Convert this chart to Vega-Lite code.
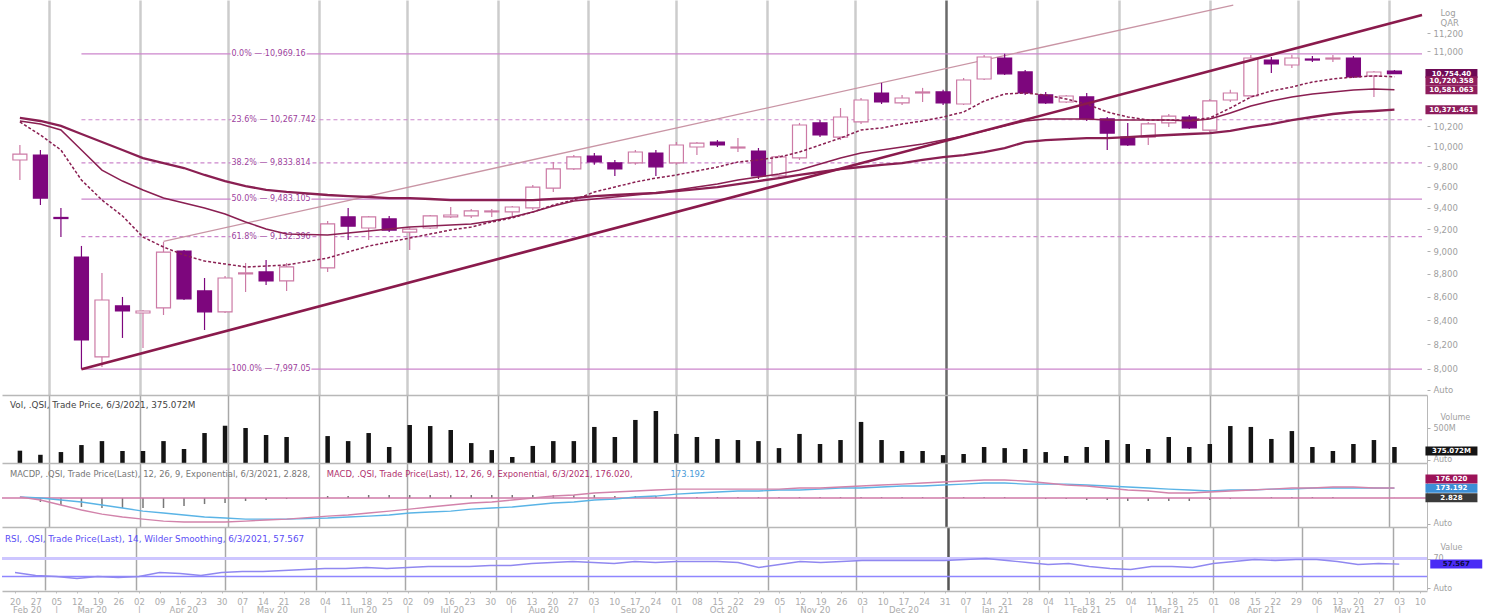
{
"$schema":"https://vega.github.io/schema/vega-lite/v6.json",
"padding":0,
"background":"white",
"spacing":0,
"bounds":"flush",
"config":{"view":{"stroke":null},"font":"DejaVu Sans","axis":{"labelFont":"DejaVu Sans","titleFont":"DejaVu Sans"}},
"datasets":{
"w":[
{"d":"2020-02-20","o":9862,"h":10011,"l":9666,"c":9921,"v":351,"m1":10245,"m2":10255,"m3":10286,"md":18,"sg":18,"hs":0,"r":38.9},
{"d":"2020-02-27","o":9911,"h":9961,"l":9427,"c":9493,"v":324,"m1":10112,"m2":10224,"m3":10255,"md":-35,"sg":0,"hs":-70,"r":32.2},
{"d":"2020-03-05","o":9310,"h":9399,"l":9129,"c":9300,"v":342,"m1":9961,"m2":10163,"m3":10204,"md":-123,"sg":-35,"hs":-123,"r":30},
{"d":"2020-03-12","o":8948,"h":9048,"l":7997.05,"c":8234,"v":388,"m1":9666,"m2":9961,"m3":10122,"md":-211,"sg":-70,"hs":-158,"r":25.6},
{"d":"2020-03-19","o":8096,"h":8807,"l":8014,"c":8571,"v":414,"m1":9474,"m2":9763,"m3":10041,"md":-282,"sg":-123,"hs":-176,"r":30},
{"d":"2020-03-26","o":8520,"h":8597,"l":8251,"c":8477,"v":349,"m1":9324,"m2":9656,"m3":9961,"md":-334,"sg":-176,"hs":-176,"r":27.8},
{"d":"2020-04-02","o":8460,"h":8485,"l":8168,"c":8477,"v":349,"m1":9129,"m2":9570,"m3":9881,"md":-370,"sg":-229,"hs":-176,"r":30},
{"d":"2020-04-09","o":8503,"h":9084,"l":8443,"c":8993,"v":414,"m1":9038,"m2":9493,"m3":9832,"md":-405,"sg":-264,"hs":-176,"r":38.9},
{"d":"2020-04-16","o":9002,"h":9011,"l":8571,"c":8580,"v":362,"m1":8966,"m2":9446,"m3":9783,"md":-422,"sg":-299,"hs":-141,"r":36.7},
{"d":"2020-04-23","o":8649,"h":8762,"l":8317,"c":8469,"v":467,"m1":8912,"m2":9399,"m3":9715,"md":-422,"sg":-334,"hs":-106,"r":32.2},
{"d":"2020-04-30","o":8469,"h":8780,"l":8460,"c":8762,"v":515,"m1":8886,"m2":9342,"m3":9656,"md":-422,"sg":-352,"hs":-88,"r":38.9},
{"d":"2020-05-07","o":8798,"h":8895,"l":8640,"c":8807,"v":500,"m1":8859,"m2":9268,"m3":9608,"md":-405,"sg":-370,"hs":-53,"r":41.1},
{"d":"2020-05-14","o":8815,"h":8922,"l":8701,"c":8736,"v":454,"m1":8868,"m2":9203,"m3":9570,"md":-387,"sg":-370,"hs":-35,"r":41.1},
{"d":"2020-05-21","o":8736,"h":8895,"l":8649,"c":8860,"v":441,"m1":8877,"m2":9157,"m3":9551,"md":-370,"sg":-370,"hs":-18,"r":43.3},
{"d":"2020-06-04","o":8851,"h":9276,"l":8815,"c":9250,"v":447,"m1":8939,"m2":9148,"m3":9522,"md":-317,"sg":-352,"hs":35,"r":47.8},
{"d":"2020-06-11","o":9315,"h":9399,"l":9102,"c":9230,"v":414,"m1":8993,"m2":9166,"m3":9512,"md":-299,"sg":-334,"hs":35,"r":47.8},
{"d":"2020-06-18","o":9212,"h":9324,"l":9102,"c":9315,"v":467,"m1":9047,"m2":9184,"m3":9503,"md":-264,"sg":-317,"hs":53,"r":50},
{"d":"2020-06-25","o":9296,"h":9324,"l":9175,"c":9193,"v":375,"m1":9084,"m2":9203,"m3":9493,"md":-229,"sg":-299,"hs":53,"r":47.8},
{"d":"2020-07-02","o":9175,"h":9220,"l":9011,"c":9202,"v":520,"m1":9120,"m2":9221,"m3":9493,"md":-194,"sg":-264,"hs":53,"r":50},
{"d":"2020-07-09","o":9212,"h":9333,"l":9202,"c":9324,"v":513,"m1":9157,"m2":9231,"m3":9484,"md":-158,"sg":-246,"hs":53,"r":52.2},
{"d":"2020-07-16","o":9315,"h":9408,"l":9305,"c":9333,"v":487,"m1":9194,"m2":9240,"m3":9474,"md":-123,"sg":-229,"hs":53,"r":52.2},
{"d":"2020-07-23","o":9324,"h":9389,"l":9305,"c":9371,"v":401,"m1":9221,"m2":9249,"m3":9474,"md":-88,"sg":-194,"hs":53,"r":52.2},
{"d":"2020-07-30","o":9362,"h":9389,"l":9315,"c":9371,"v":355,"m1":9268,"m2":9277,"m3":9474,"md":-70,"sg":-176,"hs":53,"r":54.4},
{"d":"2020-08-06","o":9362,"h":9418,"l":9315,"c":9408,"v":309,"m1":9305,"m2":9314,"m3":9474,"md":-35,"sg":-158,"hs":53,"r":54.4},
{"d":"2020-08-13","o":9399,"h":9618,"l":9380,"c":9598,"v":382,"m1":9361,"m2":9361,"m3":9474,"md":0,"sg":-123,"hs":53,"r":58.9},
{"d":"2020-08-20","o":9588,"h":9843,"l":9550,"c":9774,"v":414,"m1":9427,"m2":9417,"m3":9484,"md":35,"sg":-88,"hs":53,"r":61.1},
{"d":"2020-08-27","o":9774,"h":9911,"l":9764,"c":9892,"v":414,"m1":9474,"m2":9465,"m3":9493,"md":53,"sg":-70,"hs":53,"r":63.3},
{"d":"2020-09-03","o":9901,"h":9931,"l":9814,"c":9843,"v":507,"m1":9551,"m2":9484,"m3":9512,"md":88,"sg":-35,"hs":53,"r":61.1},
{"d":"2020-09-10","o":9833,"h":9862,"l":9706,"c":9774,"v":441,"m1":9598,"m2":9503,"m3":9522,"md":106,"sg":-18,"hs":35,"r":58.9},
{"d":"2020-09-17","o":9833,"h":9961,"l":9814,"c":9941,"v":553,"m1":9647,"m2":9522,"m3":9532,"md":123,"sg":18,"hs":35,"r":63.3},
{"d":"2020-09-24","o":9931,"h":9961,"l":9706,"c":9794,"v":612,"m1":9685,"m2":9541,"m3":9541,"md":141,"sg":35,"hs":35,"r":61.1},
{"d":"2020-10-01","o":9833,"h":10041,"l":9814,"c":10011,"v":461,"m1":9715,"m2":9570,"m3":9560,"md":158,"sg":70,"hs":18,"r":63.3},
{"d":"2020-10-08","o":9991,"h":10041,"l":9911,"c":10031,"v":441,"m1":9754,"m2":9598,"m3":9579,"md":158,"sg":88,"hs":18,"r":63.3},
{"d":"2020-10-15","o":10041,"h":10061,"l":9991,"c":10011,"v":428,"m1":9793,"m2":9627,"m3":9598,"md":158,"sg":106,"hs":18,"r":63.3},
{"d":"2020-10-22","o":9981,"h":10081,"l":9941,"c":9991,"v":421,"m1":9842,"m2":9666,"m3":9627,"md":158,"sg":123,"hs":18,"r":61.1},
{"d":"2020-10-29","o":9951,"h":9981,"l":9676,"c":9706,"v":414,"m1":9862,"m2":9695,"m3":9656,"md":158,"sg":123,"hs":18,"r":50},
{"d":"2020-11-05","o":9706,"h":9911,"l":9676,"c":9892,"v":368,"m1":9891,"m2":9724,"m3":9685,"md":158,"sg":141,"hs":18,"r":56.7},
{"d":"2020-11-12","o":9882,"h":10235,"l":9862,"c":10214,"v":461,"m1":9941,"m2":9763,"m3":9715,"md":176,"sg":141,"hs":18,"r":63.3},
{"d":"2020-11-19","o":10235,"h":10266,"l":10091,"c":10112,"v":395,"m1":10011,"m2":9822,"m3":9744,"md":176,"sg":158,"hs":18,"r":61.1},
{"d":"2020-11-26","o":10091,"h":10389,"l":10061,"c":10296,"v":421,"m1":10081,"m2":9881,"m3":9773,"md":194,"sg":176,"hs":18,"r":63.3},
{"d":"2020-12-03","o":10245,"h":10494,"l":10225,"c":10473,"v":540,"m1":10163,"m2":9931,"m3":9793,"md":211,"sg":176,"hs":18,"r":65.6},
{"d":"2020-12-10","o":10547,"h":10654,"l":10431,"c":10452,"v":421,"m1":10183,"m2":9961,"m3":9813,"md":229,"sg":194,"hs":18,"r":65.6},
{"d":"2020-12-17","o":10442,"h":10526,"l":10421,"c":10494,"v":349,"m1":10224,"m2":9991,"m3":9832,"md":246,"sg":211,"hs":18,"r":65.6},
{"d":"2020-12-24","o":10547,"h":10601,"l":10452,"c":10558,"v":349,"m1":10255,"m2":10021,"m3":9862,"md":264,"sg":211,"hs":18,"r":65.6},
{"d":"2020-12-31","o":10558,"h":10580,"l":10421,"c":10442,"v":322,"m1":10296,"m2":10061,"m3":9891,"md":282,"sg":229,"hs":18,"r":65.6},
{"d":"2021-01-07","o":10431,"h":10706,"l":10421,"c":10685,"v":329,"m1":10348,"m2":10102,"m3":9911,"md":299,"sg":246,"hs":18,"r":67.8},
{"d":"2021-01-14","o":10696,"h":10956,"l":10685,"c":10934,"v":375,"m1":10462,"m2":10153,"m3":9941,"md":317,"sg":264,"hs":18,"r":70},
{"d":"2021-01-21","o":10923,"h":10969.16,"l":10740,"c":10751,"v":368,"m1":10536,"m2":10204,"m3":9981,"md":317,"sg":264,"hs":18,"r":65.6},
{"d":"2021-01-28","o":10772,"h":10793,"l":10526,"c":10547,"v":362,"m1":10547,"m2":10255,"m3":10041,"md":299,"sg":246,"hs":0,"r":61.1},
{"d":"2021-02-04","o":10526,"h":10558,"l":10431,"c":10442,"v":342,"m1":10526,"m2":10275,"m3":10061,"md":264,"sg":246,"hs":-18,"r":56.7},
{"d":"2021-02-11","o":10452,"h":10526,"l":10442,"c":10515,"v":316,"m1":10483,"m2":10275,"m3":10071,"md":229,"sg":246,"hs":-18,"r":58.9},
{"d":"2021-02-18","o":10505,"h":10547,"l":10255,"c":10276,"v":375,"m1":10431,"m2":10275,"m3":10081,"md":211,"sg":229,"hs":-35,"r":52.2},
{"d":"2021-02-25","o":10276,"h":10296,"l":9961,"c":10132,"v":421,"m1":10348,"m2":10265,"m3":10081,"md":176,"sg":211,"hs":-35,"r":47.8},
{"d":"2021-03-04","o":10091,"h":10235,"l":10001,"c":10011,"v":395,"m1":10296,"m2":10265,"m3":10091,"md":141,"sg":194,"hs":-53,"r":45.6},
{"d":"2021-03-11","o":10091,"h":10245,"l":10011,"c":10225,"v":362,"m1":10265,"m2":10265,"m3":10102,"md":123,"sg":176,"hs":-53,"r":52.2},
{"d":"2021-03-18","o":10235,"h":10327,"l":10194,"c":10306,"v":441,"m1":10265,"m2":10265,"m3":10112,"md":88,"sg":158,"hs":-53,"r":52.2},
{"d":"2021-03-25","o":10296,"h":10316,"l":10174,"c":10184,"v":375,"m1":10265,"m2":10255,"m3":10122,"md":88,"sg":141,"hs":-53,"r":50},
{"d":"2021-04-01","o":10162,"h":10484,"l":10142,"c":10463,"v":395,"m1":10286,"m2":10275,"m3":10132,"md":106,"sg":123,"hs":-35,"r":58.9},
{"d":"2021-04-08","o":10473,"h":10580,"l":10452,"c":10547,"v":513,"m1":10389,"m2":10337,"m3":10153,"md":123,"sg":141,"hs":-18,"r":63.3},
{"d":"2021-04-15","o":10516,"h":10956,"l":10494,"c":10923,"v":507,"m1":10504,"m2":10410,"m3":10193,"md":141,"sg":141,"hs":0,"r":67.8},
{"d":"2021-04-22","o":10901,"h":10934,"l":10760,"c":10858,"v":428,"m1":10568,"m2":10462,"m3":10224,"md":158,"sg":158,"hs":18,"r":65.6},
{"d":"2021-04-29","o":10847,"h":10960,"l":10815,"c":10923,"v":480,"m1":10610,"m2":10505,"m3":10265,"md":176,"sg":158,"hs":18,"r":67.8},
{"d":"2021-05-06","o":10912,"h":10945,"l":10880,"c":10901,"v":375,"m1":10664,"m2":10536,"m3":10296,"md":176,"sg":176,"hs":18,"r":67.8},
{"d":"2021-05-13","o":10912,"h":10955,"l":10880,"c":10923,"v":349,"m1":10696,"m2":10557,"m3":10327,"md":194,"sg":176,"hs":18,"r":63.3},
{"d":"2021-05-20","o":10923,"h":10945,"l":10707,"c":10717,"v":395,"m1":10717,"m2":10578,"m3":10348,"md":194,"sg":176,"hs":0,"r":56.7},
{"d":"2021-05-27","o":10728,"h":10782,"l":10505,"c":10771,"v":421,"m1":10728,"m2":10589,"m3":10358,"md":176,"sg":176,"hs":0,"r":58.9},
{"d":"2021-06-03","o":10782,"h":10793,"l":10750,"c":10754.4,"v":375.072,"m1":10720.358,"m2":10581.063,"m3":10371.461,"md":176.02,"sg":173.192,"hs":2.828,"r":57.567}
],
"fib":[
{"d":"2020-03-12","d1":"2021-06-12T09:36:00Z","p":10969.16,"q":0,"t":"0.0% — 10,969.16"},
{"d":"2020-03-12","d1":"2021-06-12T09:36:00Z","p":10267.742,"q":23.6,"t":"23.6% — 10,267.742"},
{"d":"2020-03-12","d1":"2021-06-12T09:36:00Z","p":9833.814,"q":38.2,"t":"38.2% — 9,833.814"},
{"d":"2020-03-12","d1":"2021-06-12T09:36:00Z","p":9483.105,"q":50,"t":"50.0% — 9,483.105"},
{"d":"2020-03-12","d1":"2021-06-12T09:36:00Z","p":9132.396,"q":61.8,"t":"61.8% — 9,132.396"},
{"d":"2020-03-12","d1":"2021-06-12T09:36:00Z","p":7997.05,"q":100,"t":"100.0% — 7,997.05"}
],
"trend":[
{"d":"2020-03-12","p":7997.05,"g":"low"},
{"d":"2021-06-12T09:36:00Z","p":11404,"g":"low"},
{"d":"2020-04-09","p":9090,"g":"up"},
{"d":"2021-04-09","p":11519,"g":"up"}
],
"pt":[
{"n":1,"d":"2021-06-03","p":10754.4,"t":"10,754.40"},
{"n":2,"d":"2021-06-03","p":10720.358,"t":"10,720.358"},
{"n":3,"d":"2021-06-03","p":10581.063,"t":"10,581.063"},
{"n":4,"d":"2021-06-03","p":10371.461,"t":"10,371.461"}
],
"mt":[
{"n":1,"d":"2021-06-03","v":176.02,"t":"176.020"},
{"n":2,"d":"2021-06-03","v":173.192,"t":"173.192"},
{"n":3,"d":"2021-06-03","v":2.828,"t":"2.828"}
],
"vt":[{"d":"2021-06-03","v":375.072,"t":"375.072M"}],
"rt":[{"d":"2021-06-03","v":57.567,"t":"57.567"}]
},
"vconcat":[
{"width":1425,"height":395,"layer":[
{"data":{"name":"fib"},"transform":[{"filter":"datum.q % 50 == 0"}],"mark":{"type":"rule","color":"#cc86cc","strokeWidth":1.2},
"encoding":{"x":{"field":"d","type":"temporal","scale":{"type":"utc","domain":[1581776640000,1623490560000]},
"axis":{"values":[1583020800000,1585699200000,1588291200000,1590969600000,1593561600000,1596240000000,1598918400000,1601510400000,1604188800000,1606780800000,1609459200000,1612137600000,1614556800000,1617235200000,1619827200000,1622505600000],"grid":true,"gridColor":{"condition":{"test":"utcmonth(datum.value)==0","value":"#6a6a6a"},"value":"#cccccc"},"gridWidth":{"condition":{"test":"utcmonth(datum.value)==0","value":2.5},"value":2.5},"gridOpacity":1,"labels":false,"ticks":false,"domain":false,"title":null}},
"x2":{"field":"d1"},
"y":{"field":"p","type":"quantitative","scale":{"type":"log","domain":[7792.5,11577],"nice":false},
"axis":{"orient":"right","values":[7832,8000,8200,8400,8600,8800,9000,9200,9400,9600,9800,10000,10200,11000,11200],"labelExpr":"datum.value == 7832 ? 'Auto' : format(datum.value, ',d')","grid":false,"domain":false,"ticks":true,"tickSize":3,"tickColor":"#b0b0b0","labelColor":"#a0a0a0","labelFontSize":8.5,"labelPadding":3,"title":["Log","QAR"],"titleAngle":0,"titleAlign":"left","titleBaseline":"top","titleX":13,"titleY":8,"titleColor":"#a0a0a0","titleFontSize":8.5,"titleFontWeight":"normal","titleLineHeight":10}}}},
{"data":{"name":"fib"},"transform":[{"filter":"datum.q % 50 != 0"}],"mark":{"type":"rule","color":"#cc86cc","strokeWidth":1.2,"strokeDash":[4,3]},
"encoding":{"x":{"field":"d","type":"temporal","scale":{"type":"utc","domain":[1581776640000,1623490560000]}},"x2":{"field":"d1"},
"y":{"field":"p","type":"quantitative","scale":{"type":"log","domain":[7792.5,11577],"nice":false}}}},
{"data":{"name":"trend"},"transform":[{"filter":"datum.g == 'up'"}],"mark":{"type":"line","color":"#c995a5","strokeWidth":1.3},
"encoding":{"x":{"field":"d","type":"temporal","scale":{"type":"utc","domain":[1581776640000,1623490560000]}},
"y":{"field":"p","type":"quantitative","scale":{"type":"log","domain":[7792.5,11577],"nice":false}}}},
{"data":{"name":"fib"},"mark":{"type":"text","align":"left","baseline":"middle","dx":150,"fontSize":8,"fill":"white","stroke":"white","strokeWidth":3},
"encoding":{"x":{"field":"d","type":"temporal","scale":{"type":"utc","domain":[1581776640000,1623490560000]}},
"y":{"field":"p","type":"quantitative","scale":{"type":"log","domain":[7792.5,11577],"nice":false}},"text":{"field":"t"}}},
{"data":{"name":"fib"},"mark":{"type":"text","align":"left","baseline":"middle","dx":150,"fontSize":8,"color":"#9d3f9d"},
"encoding":{"x":{"field":"d","type":"temporal","scale":{"type":"utc","domain":[1581776640000,1623490560000]}},
"y":{"field":"p","type":"quantitative","scale":{"type":"log","domain":[7792.5,11577],"nice":false}},"text":{"field":"t"}}},
{"data":{"name":"w"},"mark":{"type":"rule","strokeWidth":1.2},
"encoding":{"x":{"field":"d","type":"temporal","scale":{"type":"utc","domain":[1581776640000,1623490560000]}},
"y":{"field":"l","type":"quantitative","scale":{"type":"log","domain":[7792.5,11577],"nice":false}},"y2":{"field":"h"},
"color":{"condition":{"test":"datum.c < datum.o","value":"#7d067d"},"value":"#cc7aa5"}}},
{"data":{"name":"w"},"mark":{"type":"bar","width":14,"strokeWidth":1.2,"opacity":1},
"encoding":{"x":{"field":"d","type":"temporal","scale":{"type":"utc","domain":[1581776640000,1623490560000]}},
"y":{"field":"o","type":"quantitative","scale":{"type":"log","domain":[7792.5,11577],"nice":false}},"y2":{"field":"c"},
"fill":{"condition":{"test":"datum.c < datum.o","value":"#7d067d"},"value":"#ffffff"},
"stroke":{"condition":{"test":"datum.c < datum.o","value":"#7d067d"},"value":"#cc7aa5"}}},
{"data":{"name":"w"},"mark":{"type":"line","color":"#8a1f52","strokeWidth":2.3},
"encoding":{"x":{"field":"d","type":"temporal","scale":{"type":"utc","domain":[1581776640000,1623490560000]}},
"y":{"field":"m3","type":"quantitative","scale":{"type":"log","domain":[7792.5,11577],"nice":false}}}},
{"data":{"name":"w"},"mark":{"type":"line","color":"#8a1f52","strokeWidth":1.5},
"encoding":{"x":{"field":"d","type":"temporal","scale":{"type":"utc","domain":[1581776640000,1623490560000]}},
"y":{"field":"m2","type":"quantitative","scale":{"type":"log","domain":[7792.5,11577],"nice":false}}}},
{"data":{"name":"w"},"mark":{"type":"line","color":"#8a1f52","strokeWidth":1.5,"strokeDash":[3,2]},
"encoding":{"x":{"field":"d","type":"temporal","scale":{"type":"utc","domain":[1581776640000,1623490560000]}},
"y":{"field":"m1","type":"quantitative","scale":{"type":"log","domain":[7792.5,11577],"nice":false}}}},
{"data":{"name":"trend"},"transform":[{"filter":"datum.g == 'low'"}],"mark":{"type":"line","color":"#8a1a4c","strokeWidth":2.6},
"encoding":{"x":{"field":"d","type":"temporal","scale":{"type":"utc","domain":[1581776640000,1623490560000]}},
"y":{"field":"p","type":"quantitative","scale":{"type":"log","domain":[7792.5,11577],"nice":false}}}},
{"data":{"name":"pt"},"transform":[{"filter":"datum.n != 2"}],"mark":{"type":"rule","strokeWidth":9,"strokeCap":"butt","xOffset":31,"x2Offset":83},
"encoding":{"x":{"field":"d","type":"temporal","scale":{"type":"utc","domain":[1581776640000,1623490560000]}},"x2":{"field":"d"},
"y":{"field":"p","type":"quantitative","scale":{"type":"log","domain":[7792.5,11577],"nice":false}},
"color":{"condition":{"test":"datum.n == 1","value":"#6e0a55"},"value":"#8e1d5c"}}},
{"data":{"name":"pt"},"transform":[{"filter":"datum.n != 2"}],"mark":{"type":"text","dx":57,"align":"center","baseline":"middle","fontSize":7,"fontWeight":"bold","color":"white"},
"encoding":{"x":{"field":"d","type":"temporal","scale":{"type":"utc","domain":[1581776640000,1623490560000]}},
"y":{"field":"p","type":"quantitative","scale":{"type":"log","domain":[7792.5,11577],"nice":false}},"text":{"field":"t"}}},
{"data":{"name":"pt"},"transform":[{"filter":"datum.n == 2"}],"mark":{"type":"rule","strokeWidth":9,"strokeCap":"butt","xOffset":31,"x2Offset":83,"yOffset":4,"color":"#8e1d5c"},
"encoding":{"x":{"field":"d","type":"temporal","scale":{"type":"utc","domain":[1581776640000,1623490560000]}},"x2":{"field":"d"},
"y":{"field":"p","type":"quantitative","scale":{"type":"log","domain":[7792.5,11577],"nice":false}}}},
{"data":{"name":"pt"},"transform":[{"filter":"datum.n == 2"}],"mark":{"type":"text","dx":57,"dy":4,"align":"center","baseline":"middle","fontSize":7,"fontWeight":"bold","color":"white"},
"encoding":{"x":{"field":"d","type":"temporal","scale":{"type":"utc","domain":[1581776640000,1623490560000]}},
"y":{"field":"p","type":"quantitative","scale":{"type":"log","domain":[7792.5,11577],"nice":false}},"text":{"field":"t"}}}
]},
{"width":1425,"height":68,"layer":[
{"data":{"name":"w"},"mark":{"type":"bar","width":4.5,"color":"#141414","clip":true},
"encoding":{"x":{"field":"d","type":"temporal","scale":{"type":"utc","domain":[1581776640000,1623490560000]},
"axis":{"orient":"top","values":[1583020800000,1585699200000,1588291200000,1590969600000,1593561600000,1596240000000,1598918400000,1601510400000,1604188800000,1606780800000,1609459200000,1612137600000,1614556800000,1617235200000,1619827200000,1622505600000],"grid":true,"gridColor":{"condition":{"test":"utcmonth(datum.value)==0","value":"#555555"},"value":"#a8a8a8"},"gridWidth":{"condition":{"test":"utcmonth(datum.value)==0","value":2.5},"value":1.5},"gridOpacity":1,"labels":false,"ticks":false,"domain":true,"domainColor":"#b8b8b8","domainWidth":1.5,"title":null}},
"y":{"field":"v","type":"quantitative","scale":{"domain":[270,717],"nice":false,"zero":false},
"axis":{"orient":"right","values":[290,500],"labelExpr":"datum.value == 290 ? 'Auto' : datum.value + 'M'","grid":false,"domain":true,"domainColor":"#b8b8b8","ticks":true,"tickSize":3,"tickColor":"#b0b0b0","labelColor":"#a0a0a0","labelFontSize":8,"labelPadding":3,"title":"Volume","titleAngle":0,"titleAlign":"left","titleBaseline":"middle","titleX":13,"titleY":22,"titleColor":"#a0a0a0","titleFontSize":8,"titleFontWeight":"normal"}},
"y2":{"datum":270}}},
{"data":{"values":[{}]},"mark":{"type":"text","align":"left","baseline":"middle","fontSize":8.8,"color":"#444444"},
"encoding":{"x":{"datum":1581864460000,"type":"temporal","scale":{"type":"utc","domain":[1581776640000,1623490560000]}},
"y":{"datum":651,"type":"quantitative","scale":{"domain":[270,717],"nice":false,"zero":false}},
"text":{"value":"Vol, .QSI, Trade Price, 6/3/2021, 375.072M"}}},
{"data":{"name":"vt"},"mark":{"type":"rule","strokeWidth":9,"strokeCap":"butt","xOffset":31,"x2Offset":83,"yOffset":4,"color":"#151515"},
"encoding":{"x":{"field":"d","type":"temporal","scale":{"type":"utc","domain":[1581776640000,1623490560000]}},"x2":{"field":"d"},
"y":{"field":"v","type":"quantitative","scale":{"domain":[270,717],"nice":false,"zero":false}}}},
{"data":{"name":"vt"},"mark":{"type":"text","dx":57,"dy":4,"align":"center","baseline":"middle","fontSize":7,"fontWeight":"bold","color":"white"},
"encoding":{"x":{"field":"d","type":"temporal","scale":{"type":"utc","domain":[1581776640000,1623490560000]}},
"y":{"field":"v","type":"quantitative","scale":{"domain":[270,717],"nice":false,"zero":false}},"text":{"field":"t"}}}
]},
{"width":1425,"height":64,"layer":[
{"data":{"name":"w"},"mark":{"type":"bar","width":1.5,"color":"#777777"},
"encoding":{"x":{"field":"d","type":"temporal","scale":{"type":"utc","domain":[1581776640000,1623490560000]},
"axis":{"orient":"top","values":[1583020800000,1585699200000,1588291200000,1590969600000,1593561600000,1596240000000,1598918400000,1601510400000,1604188800000,1606780800000,1609459200000,1612137600000,1614556800000,1617235200000,1619827200000,1622505600000],"grid":true,"gridColor":{"condition":{"test":"utcmonth(datum.value)==0","value":"#555555"},"value":"#a8a8a8"},"gridWidth":{"condition":{"test":"utcmonth(datum.value)==0","value":2.5},"value":1.5},"gridOpacity":1,"labels":false,"ticks":false,"domain":true,"domainColor":"#b8b8b8","domainWidth":1.5,"title":null}},
"y":{"field":"hs","type":"quantitative","scale":{"domain":[-510,616],"nice":false,"zero":false},
"axis":{"orient":"right","values":[-457],"labelExpr":"'Auto'","grid":false,"domain":true,"domainColor":"#b8b8b8","ticks":true,"tickSize":3,"tickColor":"#b0b0b0","labelColor":"#a0a0a0","labelFontSize":8,"labelPadding":3,"title":null}},
"y2":{"datum":0}}},
{"data":{"values":[{}]},"mark":{"type":"rule","color":"#cf7aa8","strokeWidth":1.5},
"encoding":{"y":{"datum":0,"type":"quantitative","scale":{"domain":[-510,616],"nice":false,"zero":false}}}},
{"data":{"name":"w"},"mark":{"type":"line","color":"#5ab4e6","strokeWidth":1.3},
"encoding":{"x":{"field":"d","type":"temporal","scale":{"type":"utc","domain":[1581776640000,1623490560000]}},
"y":{"field":"sg","type":"quantitative","scale":{"domain":[-510,616],"nice":false,"zero":false}}}},
{"data":{"name":"w"},"mark":{"type":"line","color":"#d283ab","strokeWidth":1.3},
"encoding":{"x":{"field":"d","type":"temporal","scale":{"type":"utc","domain":[1581776640000,1623490560000]}},
"y":{"field":"md","type":"quantitative","scale":{"domain":[-510,616],"nice":false,"zero":false}}}},
{"data":{"values":[{}]},"mark":{"type":"text","align":"left","baseline":"middle","fontSize":8.4,"color":"#777777"},
"encoding":{"x":{"datum":1581864460000,"type":"temporal","scale":{"type":"utc","domain":[1581776640000,1623490560000]}},
"y":{"datum":422,"type":"quantitative","scale":{"domain":[-510,616],"nice":false,"zero":false}},
"text":{"value":"MACDP, .QSI, Trade Price(Last),  12, 26, 9, Exponential, 6/3/2021, 2.828,"}}},
{"data":{"values":[{}]},"mark":{"type":"text","align":"left","baseline":"middle","fontSize":8.4,"color":"#b0306e"},
"encoding":{"x":{"datum":1591202880000,"type":"temporal","scale":{"type":"utc","domain":[1581776640000,1623490560000]}},
"y":{"datum":422,"type":"quantitative","scale":{"domain":[-510,616],"nice":false,"zero":false}},
"text":{"value":"MACD, .QSI, Trade Price(Last),  12, 26, 9, Exponential, 6/3/2021, 176.020,"}}},
{"data":{"values":[{}]},"mark":{"type":"text","align":"left","baseline":"middle","fontSize":8.4,"color":"#4a9ad8"},
"encoding":{"x":{"datum":1601337600000,"type":"temporal","scale":{"type":"utc","domain":[1581776640000,1623490560000]}},
"y":{"datum":422,"type":"quantitative","scale":{"domain":[-510,616],"nice":false,"zero":false}},
"text":{"value":"173.192"}}},
{"data":{"name":"mt"},"transform":[{"filter":"datum.n != 1"}],"mark":{"type":"rule","strokeWidth":9,"strokeCap":"butt","xOffset":31,"x2Offset":83},
"encoding":{"x":{"field":"d","type":"temporal","scale":{"type":"utc","domain":[1581776640000,1623490560000]}},"x2":{"field":"d"},
"y":{"field":"v","type":"quantitative","scale":{"domain":[-510,616],"nice":false,"zero":false}},
"color":{"condition":{"test":"datum.n == 2","value":"#3b8ed6"},"value":"#3a3a3a"}}},
{"data":{"name":"mt"},"transform":[{"filter":"datum.n != 1"}],"mark":{"type":"text","dx":57,"align":"center","baseline":"middle","fontSize":7,"fontWeight":"bold","color":"white"},
"encoding":{"x":{"field":"d","type":"temporal","scale":{"type":"utc","domain":[1581776640000,1623490560000]}},
"y":{"field":"v","type":"quantitative","scale":{"domain":[-510,616],"nice":false,"zero":false}},"text":{"field":"t"}}},
{"data":{"name":"mt"},"transform":[{"filter":"datum.n == 1"}],"mark":{"type":"rule","strokeWidth":9,"strokeCap":"butt","xOffset":31,"x2Offset":83,"yOffset":-9,"color":"#9c1358"},
"encoding":{"x":{"field":"d","type":"temporal","scale":{"type":"utc","domain":[1581776640000,1623490560000]}},"x2":{"field":"d"},
"y":{"field":"v","type":"quantitative","scale":{"domain":[-510,616],"nice":false,"zero":false}}}},
{"data":{"name":"mt"},"transform":[{"filter":"datum.n == 1"}],"mark":{"type":"text","dx":57,"dy":-9,"align":"center","baseline":"middle","fontSize":7,"fontWeight":"bold","color":"white"},
"encoding":{"x":{"field":"d","type":"temporal","scale":{"type":"utc","domain":[1581776640000,1623490560000]}},
"y":{"field":"v","type":"quantitative","scale":{"domain":[-510,616],"nice":false,"zero":false}},"text":{"field":"t"}}}
]},
{"width":1425,"height":63,"layer":[
{"data":{"values":[{}]},"mark":{"type":"rule","color":"#cdc6ff","strokeWidth":3},
"encoding":{"y":{"datum":70,"type":"quantitative","scale":{"domain":[0,140],"nice":false},
"axis":{"orient":"right","values":[70,30,4.4],"labelExpr":"datum.value == 4.4 ? 'Auto' : datum.value","grid":false,"domain":true,"domainColor":"#b8b8b8","ticks":true,"tickSize":3,"tickColor":"#b0b0b0","labelColor":"#a0a0a0","labelFontSize":8,"labelPadding":3,"title":"Value","titleAngle":0,"titleAlign":"left","titleBaseline":"middle","titleX":13,"titleY":20,"titleColor":"#a0a0a0","titleFontSize":8,"titleFontWeight":"normal"}}}},
{"data":{"values":[{}]},"mark":{"type":"rule","color":"#8f86ff","strokeWidth":1.3},
"encoding":{"y":{"datum":30,"type":"quantitative","scale":{"domain":[0,140],"nice":false}}}},
{"data":{"name":"w"},"mark":{"type":"line","color":"#9088f0","strokeWidth":1.3},
"encoding":{"x":{"field":"d","type":"temporal","scale":{"type":"utc","domain":[1581776640000,1623490560000]},
"axis":{"orient":"top","values":[1583020800000,1585699200000,1588291200000,1590969600000,1593561600000,1596240000000,1598918400000,1601510400000,1604188800000,1606780800000,1609459200000,1612137600000,1614556800000,1617235200000,1619827200000,1622505600000],"grid":true,"gridColor":{"condition":{"test":"utcmonth(datum.value)==0","value":"#555555"},"value":"#a8a8a8"},"gridWidth":{"condition":{"test":"utcmonth(datum.value)==0","value":2.5},"value":1.5},"gridOpacity":1,"labels":false,"ticks":false,"domain":true,"domainColor":"#b8b8b8","domainWidth":1.5,"title":null}},
"y":{"field":"r","type":"quantitative","scale":{"domain":[0,140],"nice":false}}}},
{"data":{"values":[{}]},"mark":{"type":"text","align":"left","baseline":"middle","fontSize":8.8,"color":"#5b4df5"},
"encoding":{"x":{"datum":1581864460000,"type":"temporal","scale":{"type":"utc","domain":[1581776640000,1623490560000]}},
"y":{"datum":113,"type":"quantitative","scale":{"domain":[0,140],"nice":false}},
"text":{"value":"RSI, .QSI, Trade Price(Last), 14, Wilder Smoothing, 6/3/2021, 57.567"}}},
{"data":{"name":"rt"},"mark":{"type":"rule","strokeWidth":9,"strokeCap":"butt","xOffset":31,"x2Offset":83,"color":"#4a2cf5"},
"encoding":{"x":{"field":"d","type":"temporal","scale":{"type":"utc","domain":[1581776640000,1623490560000]}},"x2":{"field":"d"},
"y":{"field":"v","type":"quantitative","scale":{"domain":[0,140],"nice":false}}}},
{"data":{"name":"rt"},"mark":{"type":"text","dx":57,"align":"center","baseline":"middle","fontSize":7,"fontWeight":"bold","color":"#0a0a40"},
"encoding":{"x":{"field":"d","type":"temporal","scale":{"type":"utc","domain":[1581776640000,1623490560000]}},
"y":{"field":"v","type":"quantitative","scale":{"domain":[0,140],"nice":false}},"text":{"field":"t"}}}
]},
{"width":1425,"height":1,"data":{"name":"w"},"mark":{"type":"point","opacity":0},
"encoding":{"x":{"field":"d","type":"temporal","scale":{"type":"utc","domain":[1581776640000,1623490560000]},
"axis":{"orient":"bottom","values":[1582156800000,1582761600000,1583366400000,1583971200000,1584576000000,1585180800000,1585785600000,1586390400000,1586995200000,1587600000000,1588204800000,1588809600000,1589414400000,1590019200000,1590624000000,1591228800000,1591833600000,1592438400000,1593043200000,1593648000000,1594252800000,1594857600000,1595462400000,1596067200000,1596672000000,1597276800000,1597881600000,1598486400000,1599091200000,1599696000000,1600300800000,1600905600000,1601510400000,1602115200000,1602720000000,1603324800000,1603929600000,1604534400000,1605139200000,1605744000000,1606348800000,1606953600000,1607558400000,1608163200000,1608768000000,1609372800000,1609977600000,1610582400000,1611187200000,1611792000000,1612396800000,1613001600000,1613606400000,1614211200000,1614816000000,1615420800000,1616025600000,1616630400000,1617235200000,1617840000000,1618444800000,1619049600000,1619654400000,1620259200000,1620864000000,1621468800000,1622073600000,1622678400000,1623283200000],"labelExpr":"utcFormat(datum.value, '%d')","grid":false,"domain":true,"domainColor":"#b8b8b8","domainWidth":1.5,"ticks":true,"tickSize":2,"tickColor":"#c0c0c0","labelColor":"#ababab","labelFontSize":8.5,"labelPadding":4,"labelOverlap":false,"labelFlush":false,"title":null}}}},
{"width":1425,"height":1,"data":{"name":"w"},"mark":{"type":"point","opacity":0},
"encoding":{"x":{"field":"d","type":"temporal","scale":{"type":"utc","domain":[1581776640000,1623490560000]},
"axis":{"orient":"bottom","values":[1582502400000,1583366400000,1584403200000,1585785600000,1587081600000,1588809600000,1589673600000,1591228800000,1592352000000,1593648000000,1594944000000,1596672000000,1597622400000,1599091200000,1600300800000,1601510400000,1602892800000,1604534400000,1605571200000,1606953600000,1608163200000,1609977600000,1610841600000,1612396800000,1613520000000,1614816000000,1615939200000,1617235200000,1618617600000,1620259200000,1621209600000,1622678400000],"labelExpr":"(utcdate(datum.value) == 17 || utcdate(datum.value) == 24) ? utcFormat(datum.value, '%b %y') : '|'","offset":12,"grid":false,"domain":false,"ticks":false,"labelColor":"#ababab","labelFontSize":8.5,"labelPadding":1,"labelOverlap":false,"labelFlush":false,"title":null}}}}
]
}
